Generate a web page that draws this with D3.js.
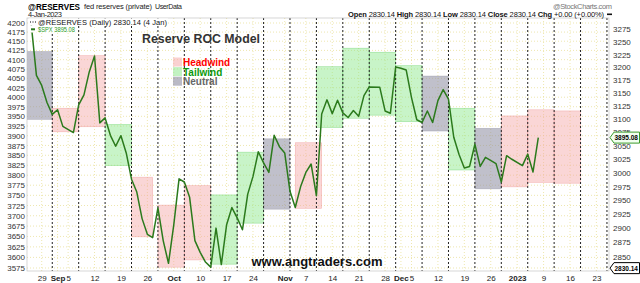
<!DOCTYPE html>
<html>
<head>
<meta charset="utf-8">
<script src="https://cdn.jsdelivr.net/npm/d3@7"></script>
<style>
  body { margin: 0; background: #fff; }
  svg { display: block; }
  text { font-family: "Liberation Sans", Arial, sans-serif; }
</style>
</head>
<body>
<svg id="chart"></svg>
<script>
// $SPX daily closes (left scale)
const spxDates = [
  "2022-08-25","2022-08-26","2022-08-29","2022-08-30","2022-08-31","2022-09-01","2022-09-02",
  "2022-09-06","2022-09-07","2022-09-08","2022-09-09","2022-09-12","2022-09-13","2022-09-14",
  "2022-09-15","2022-09-16","2022-09-19","2022-09-20","2022-09-21","2022-09-22","2022-09-23",
  "2022-09-26","2022-09-27","2022-09-28","2022-09-29","2022-09-30","2022-10-03","2022-10-04",
  "2022-10-05","2022-10-06","2022-10-07","2022-10-10","2022-10-11","2022-10-12","2022-10-13",
  "2022-10-14","2022-10-17","2022-10-18","2022-10-19","2022-10-20","2022-10-21","2022-10-24",
  "2022-10-25","2022-10-26","2022-10-27","2022-10-28","2022-10-31","2022-11-01","2022-11-02",
  "2022-11-03","2022-11-04","2022-11-07","2022-11-08","2022-11-09","2022-11-10","2022-11-11",
  "2022-11-14","2022-11-15","2022-11-16","2022-11-17","2022-11-18","2022-11-21","2022-11-22",
  "2022-11-23","2022-11-25","2022-11-28","2022-11-29","2022-11-30","2022-12-01","2022-12-02",
  "2022-12-05","2022-12-06","2022-12-07","2022-12-08","2022-12-09","2022-12-12","2022-12-13",
  "2022-12-14","2022-12-15","2022-12-16","2022-12-19","2022-12-20","2022-12-21","2022-12-22",
  "2022-12-23","2022-12-27","2022-12-28","2022-12-29","2022-12-30","2023-01-03","2023-01-04",
  "2023-01-05","2023-01-06"
];
const spxClose = [
  4199, 4058, 4031, 3986, 3955, 3967, 3924,
  3908, 3980, 4006, 4067, 4110, 3933, 3946,
  3901, 3873, 3900, 3856, 3790, 3758, 3693,
  3655, 3647, 3719, 3640, 3586, 3678, 3791,
  3783, 3745, 3640, 3612, 3589, 3577, 3670,
  3583, 3678, 3720, 3695, 3666, 3753, 3797,
  3859, 3831, 3807, 3901, 3872, 3856, 3760,
  3720, 3771, 3807, 3828, 3749, 3956, 3993,
  3957, 3992, 3959, 3947, 3965, 3950, 4004,
  4027, 4026, 3964, 3958, 4080, 4077, 4072,
  3999, 3941, 3934, 3964, 3934, 3991, 4020,
  3995, 3896, 3852, 3818, 3822, 3878, 3822,
  3845, 3829, 3783, 3849, 3840, 3824, 3853,
  3808, 3895.08
];

// weekly @RESERVES readings (Wednesdays), drawn as the dotted verticals
const reserveWeeks = [
  "2022-08-31","2022-09-07","2022-09-14","2022-09-21","2022-09-28","2022-10-05","2022-10-12",
  "2022-10-19","2022-10-26","2022-11-02","2022-11-09","2022-11-16","2022-11-23","2022-11-30",
  "2022-12-07","2022-12-14","2022-12-21","2022-12-28","2023-01-04","2023-01-11","2023-01-18",
  "2023-01-25"
];

// model boxes
const boxStart  = ["2022-08-24","2022-08-31","2022-09-07","2022-09-14","2022-09-21","2022-09-28","2022-10-05",
                   "2022-10-12","2022-10-19","2022-10-26","2022-11-03","2022-11-09","2022-11-16","2022-11-23",
                   "2022-11-30","2022-12-07","2022-12-14","2022-12-21","2022-12-28","2023-01-04","2023-01-11"];
const boxEnd    = ["2022-08-31","2022-09-07","2022-09-14","2022-09-21","2022-09-27","2022-10-05","2022-10-12",
                   "2022-10-19","2022-10-26","2022-11-02","2022-11-10","2022-11-16","2022-11-23","2022-11-30",
                   "2022-12-07","2022-12-14","2022-12-21","2022-12-28","2023-01-04","2023-01-11","2023-01-18"];
const boxTop    = [4122, 3971, 4111, 3929, 3795, 3726, 3774, 3751, 3858, 3892, 3882,
                   4081, 4131, 4120, 4084, 4056, 3971, 3919, 3951, 3967, 3964];
const boxBottom = [3942, 3910, 3923, 3824, 3649, 3577, 3594, 3584, 3682, 3716, 3718,
                   3921, 3945, 3953, 3936, 3912, 3813, 3766, 3771, 3782, 3780];
const boxKind   = ["N","H","H","T","H","H","H","T","T","N","H",
                   "T","T","T","T","N","T","N","H","H","H"];

const tickDates  = ["2022-08-29","2022-09-01","2022-09-05","2022-09-12","2022-09-19","2022-09-26",
                    "2022-10-03","2022-10-10","2022-10-17","2022-10-24","2022-11-01","2022-11-07",
                    "2022-11-14","2022-11-21","2022-11-28","2022-12-01","2022-12-05","2022-12-12",
                    "2022-12-19","2022-12-26","2023-01-02","2023-01-09","2023-01-16","2023-01-23"];
const tickLabels = ["29","Sep","5","12","19","26","Oct","10","17","24","Nov","7",
                    "14","21","28","Dec","5","12","19","26","2023","9","16","23"];
const boldLabels = ["Sep","Oct","Nov","Dec","2023"];

const leftTicks  = d3.range(3575, 4201, 25);
const rightTicks = d3.range(2850, 3276, 25);
const spxLast = 3895.08;
const resLast = 2830.14;

const width = 640, height = 283;
const plot = { left: 27, right: 609, top: 18, bottom: 271 };

const colors = {
  H: { fill: "#f5a3a3", stroke: "#e88" },
  T: { fill: "#86e686", stroke: "#5c5" },
  N: { fill: "#8c8ca0", stroke: "#889" }
};

// weekday index counted from Mon 29 Aug 2022 (holidays keep their slot)
const base = Date.UTC(2022, 7, 29);
const wd = s => {
  const [y, m, d] = s.split("-").map(Number);
  const days = Math.round((Date.UTC(y, m - 1, d) - base) / 864e5);
  const w = Math.floor(days / 7);
  return w * 5 + Math.min(days - w * 7, 5);
};

const x = d3.scaleLinear().domain([0, 105]).range([41.7, 596.4]);
const yL = d3.scaleLog().domain([3575, 4200]).range([268, 23]);
const yR = d3.scaleLog().domain([2850, 3275]).range([256.7, 29.3]);

const svg = d3.select("#chart").attr("width", width).attr("height", height);
svg.append("rect").attr("width", width).attr("height", height).attr("fill", "#fff");

svg.append("clipPath").attr("id", "clip")
  .append("rect")
  .attr("x", plot.left).attr("y", plot.top)
  .attr("width", plot.right - plot.left).attr("height", plot.bottom - plot.top);

const inner = svg.append("g").attr("clip-path", "url(#clip)");

// yellow dotted grid
inner.append("g").selectAll("line").data(leftTicks).join("line")
  .attr("x1", plot.left).attr("x2", plot.right)
  .attr("y1", d => yL(d)).attr("y2", d => yL(d))
  .attr("stroke", "#e6dc8c").attr("stroke-width", 0.7).attr("stroke-dasharray", "1,2");

inner.append("g").selectAll("line").data(tickDates).join("line")
  .attr("x1", d => x(wd(d))).attr("x2", d => x(wd(d)))
  .attr("y1", plot.top).attr("y2", plot.bottom)
  .attr("stroke", "#e6dc8c").attr("stroke-width", 0.7).attr("stroke-dasharray", "1,2");

// model boxes
inner.append("g").selectAll("rect").data(boxStart).join("rect")
  .attr("x", (d, i) => x(wd(d)))
  .attr("width", (d, i) => x(wd(boxEnd[i])) - x(wd(d)))
  .attr("y", (d, i) => yL(boxTop[i]))
  .attr("height", (d, i) => yL(boxBottom[i]) - yL(boxTop[i]))
  .attr("fill", (d, i) => colors[boxKind[i]].fill)
  .attr("fill-opacity", (d, i) => boxKind[i] === "N" ? 0.55 : 0.45)
  .attr("stroke", (d, i) => colors[boxKind[i]].stroke)
  .attr("stroke-opacity", 0.5)
  .attr("stroke-width", 0.6);

// weekly reserves verticals
inner.append("g").selectAll("line").data(reserveWeeks).join("line")
  .attr("x1", d => x(wd(d))).attr("x2", d => x(wd(d)))
  .attr("y1", plot.top).attr("y2", plot.bottom)
  .attr("stroke", "#222").attr("stroke-width", 1).attr("stroke-dasharray", "2,2");

// SPX line
const spx = spxDates.map((d, i) => ({ i: wd(d), v: spxClose[i] }));
inner.append("path").datum(spx)
  .attr("fill", "none")
  .attr("stroke", "#2b7a1c")
  .attr("stroke-width", 1.5)
  .attr("stroke-linejoin", "round")
  .attr("d", d3.line().x(d => x(d.i)).y(d => yL(d.v)));

// frame
svg.append("rect")
  .attr("x", plot.left).attr("y", plot.top)
  .attr("width", plot.right - plot.left).attr("height", plot.bottom - plot.top)
  .attr("fill", "none").attr("stroke", "#bbb").attr("stroke-width", 0.6);

// axes
const axL = svg.append("g").attr("transform", `translate(${plot.left},0)`)
  .call(d3.axisLeft(yL).tickValues(leftTicks).tickFormat(d3.format("d")).tickSize(0).tickPadding(2));
const axR = svg.append("g").attr("transform", `translate(${plot.right},0)`)
  .call(d3.axisRight(yR).tickValues(rightTicks).tickFormat(d3.format("d")).tickSize(0).tickPadding(4));
[axL, axR].forEach(g => {
  g.select(".domain").remove();
  g.selectAll("text").attr("font-size", 8).attr("fill", "#333")
    .attr("font-family", '"Liberation Sans", Arial, sans-serif');
});

const axB = svg.append("g").attr("transform", `translate(0,${plot.bottom})`)
  .call(d3.axisBottom(x).tickValues(tickDates.map(wd))
    .tickFormat((d, i) => tickLabels[i]).tickSize(0).tickPadding(4));
axB.select(".domain").remove();
axB.selectAll("text").attr("font-size", 8).attr("fill", "#222")
  .attr("font-family", '"Liberation Sans", Arial, sans-serif')
  .attr("font-weight", (d, i) => boldLabels.includes(tickLabels[i]) ? "bold" : "normal");

// price badges on the right
function badge(yPos, label, stroke, fill) {
  const g = svg.append("g");
  g.append("path")
    .attr("d", `M${plot.right + 1},${yPos} L${plot.right + 5},${yPos - 5.5} L${width - 0.5},${yPos - 5.5} L${width - 0.5},${yPos + 5.5} L${plot.right + 5},${yPos + 5.5} Z`)
    .attr("fill", fill).attr("stroke", stroke).attr("stroke-width", 1);
  g.append("text").attr("x", plot.right + 5.5).attr("y", yPos + 2.8)
    .attr("font-size", 7.5).attr("font-weight", "bold").attr("fill", "#000")
    .attr("textLength", 23.5).attr("lengthAdjust", "spacingAndGlyphs")
    .text(label);
}
badge(yL(spxLast), spxLast.toFixed(2), "#3a9a2a", "#f2fff0");
badge(yR(resLast), resLast.toFixed(2), "#000", "#fff");

// in-chart legend rows (opaque like the original)
svg.append("rect").attr("x", 29).attr("y", 18.5).attr("width", 139).attr("height", 7).attr("fill", "#fff");
svg.append("rect").attr("x", 29).attr("y", 25.5).attr("width", 47).attr("height", 7).attr("fill", "#fff");
svg.append("line").attr("x1", 30).attr("x2", 36).attr("y1", 22).attr("y2", 22)
  .attr("stroke", "#000").attr("stroke-dasharray", "1,1.5");
svg.append("text").attr("x", 38).attr("y", 24.8).attr("font-size", 7.5).attr("fill", "#111")
  .attr("textLength", 129).attr("lengthAdjust", "spacing")
  .text("@RESERVES (Daily) 2830.14 (4 Jan)");
svg.append("rect").attr("x", 31).attr("y", 28.3).attr("width", 4).attr("height", 2).attr("fill", "#2b7a1c");
svg.append("text").attr("x", 38).attr("y", 31.8).attr("font-size", 7).attr("fill", "#2b9a1c")
  .attr("textLength", 37).attr("lengthAdjust", "spacingAndGlyphs")
  .text("$SPX 3895.08");

// header
svg.append("text").attr("x", 28).attr("y", 9.5).attr("font-size", 9.5).attr("font-weight", "bold")
  .attr("textLength", 52).attr("lengthAdjust", "spacingAndGlyphs").text("@RESERVES");
svg.append("text").attr("x", 84).attr("y", 9).attr("font-size", 7.5).attr("fill", "#222")
  .attr("textLength", 68).attr("lengthAdjust", "spacing").text("fed reserves (private)");
svg.append("text").attr("x", 155).attr("y", 9).attr("font-size", 7).attr("fill", "#222")
  .attr("textLength", 27).text("UserData");
svg.append("text").attr("x", 28).attr("y", 17).attr("font-size", 7.5).attr("fill", "#222")
  .attr("textLength", 34).text("4-Jan-2023");
svg.append("text").attr("x", 612).attr("y", 8.5).attr("font-size", 7.5).attr("fill", "#777")
  .attr("text-anchor", "end").attr("textLength", 59).text("@StockCharts.com");

const ohlc = svg.append("text").attr("x", 348).attr("y", 17).attr("font-size", 7.5).attr("fill", "#111")
  .attr("textLength", 256).attr("lengthAdjust", "spacing");
[["Open", true], [" 2830.14 ", false], ["High", true], [" 2830.14 ", false], ["Low", true],
 [" 2830.14 ", false], ["Close", true], [" 2830.14 ", false], ["Chg", true], [" +0.00 (+0.00%)", false]]
  .forEach(([t, b]) => ohlc.append("tspan").attr("font-weight", b ? "bold" : "normal").text(t));
svg.append("rect").attr("x", 607).attr("y", 13.5).attr("width", 5).attr("height", 1.6).attr("fill", "#111");

// title
svg.append("text").attr("x", 142).attr("y", 43).attr("font-size", 13).attr("font-weight", "bold")
  .attr("fill", "#333").attr("textLength", 118).attr("lengthAdjust", "spacingAndGlyphs")
  .text("Reserve ROC Model");

// model legend
const legend = [
  { k: "H", label: "Headwind", color: "#f00" },
  { k: "T", label: "Tailwind", color: "#0a9a0a" },
  { k: "N", label: "Neutral", color: "#666" }
];
legend.forEach((d, i) => {
  svg.append("rect").attr("x", 173).attr("y", 57.5 + i * 9.6).attr("width", 9).attr("height", 9)
    .attr("fill", colors[d.k].fill).attr("fill-opacity", d.k === "N" ? 0.6 : 0.5);
  svg.append("text").attr("x", 183).attr("y", 66 + i * 9.6).attr("font-size", 10).attr("font-weight", "bold")
    .attr("fill", d.color).text(d.label);
});

// watermark
svg.append("text").attr("x", 251.5).attr("y", 266).attr("font-size", 13).attr("font-weight", "bold")
  .attr("fill", "#111").text("www.angtraders.com");
</script>
</body>
</html>
